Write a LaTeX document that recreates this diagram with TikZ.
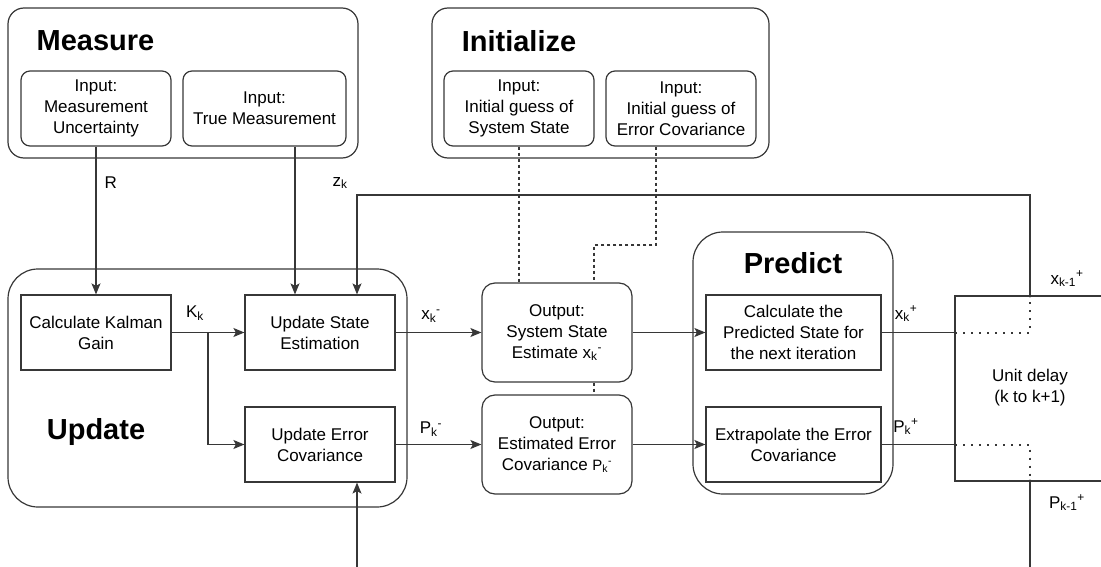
\documentclass[tikz,border=0pt]{standalone}
\usepackage{fontspec}
\setmainfont{Liberation Sans}
\usetikzlibrary{arrows.meta}

\begin{document}
\begin{tikzpicture}[x=1pt,y=1pt,yscale=-1,
    line width=1.2pt, draw={rgb,255:red,55;green,55;blue,55},
    group/.style={draw, rounded corners=16pt, inner sep=0pt},
    inbox/.style={draw, rounded corners=9pt, align=center, inner sep=0pt,
      minimum width=150pt, minimum height=75pt, font=\fontsize{17}{21}\selectfont},
    block/.style={draw, align=center, inner sep=0pt,
      minimum width=150pt, minimum height=75pt, font=\fontsize{17}{21}\selectfont},
    title/.style={inner sep=0pt, font=\fontsize{29}{32}\selectfont\bfseries},
    lbl/.style={inner sep=0pt, font=\fontsize{17}{20}\selectfont},
    arr/.style={-{Stealth[length=11pt,width=9pt,inset=2.5pt]}},
    dsh/.style={dash pattern=on 3pt off 3pt},
    dts/.style={line width=2pt, dash pattern=on 2pt off 6pt}]
\useasboundingbox (0,0) rectangle (1101,567);

% Group boxes
\node[group, minimum width=350pt, minimum height=150pt] (measure) at (183,83) {};
\node[group, minimum width=337pt, minimum height=150pt] (initialize) at (600.5,83) {};
\node[group, rounded corners=30pt, minimum width=399pt, minimum height=238pt] (update) at (207.5,388) {};
\node[group, rounded corners=30pt, minimum width=200pt, minimum height=262pt] (predict) at (793,363) {};

% Titles
\node[title, anchor=west] (tMeasure) at (36,41) {Measure};
\node[title] (tInit) at (519,41) {Initialize};
\node[title] (tUpdate) at (96,432) {Update};
\node[title] (tPredict) at (793,263) {Predict};

% Inputs
\node[inbox] (measU) at (96,108.5) {Input:\\Measurement\\Uncertainty};
\node[inbox, minimum width=163pt] (measT) at (264.5,108.5) {Input:\\True Measurement};
\node[inbox] (initS) at (519,108.5) {Input:\\Initial guess of\\System State};
\node[inbox] (initE) at (681,108.5) {Input:\\Initial guess of\\Error Covariance};

% Update blocks
\node[block] (kalman) at (96,332.5) {Calculate Kalman\\Gain};
\node[block] (upState) at (320,332.5) {Update State\\Estimation};
\node[block] (upErr) at (320,444.5) {Update Error\\Covariance};

% Outputs
\node[inbox, rounded corners=13pt, minimum height=99pt] (outState) at (557,332.5)
  {Output:\\System State\\Estimate x\textsubscript{k}\textsuperscript{-}};
\node[inbox, rounded corners=13pt, minimum height=99pt] (outErr) at (557,444.5)
  {Output:\\Estimated Error\\Covariance {\fontsize{15}{15}\selectfont P\textsubscript{k}\textsuperscript{-}}};

% Predict blocks
\node[block, minimum width=175pt] (predState) at (793.5,332.5) {Calculate the\\Predicted State for\\the next iteration};
\node[block, minimum width=175pt] (extrap) at (793.5,444.5) {Extrapolate the Error\\Covariance};

% Unit delay
\coordinate (dTL) at (955,296);
\coordinate (dBL) at (955,481);
\coordinate (dTR) at (1101,296);
\coordinate (dBR) at (1101,481);
\coordinate (dxTop) at (1030,296);
\coordinate (dPb) at (1030,481);
\coordinate (dPend) at (1030,567);
\draw (dTR) -- (dTL) -- (dBL) -- (dBR);
\node[lbl, align=center, font=\fontsize{17}{21}\selectfont] (delay) at (1030,388) {Unit delay\\(k to k+1)};

% Helper points
\coordinate (zin) at (295,195);
\coordinate (fb) at (357,195);
\coordinate (kbr) at (208,332.5);
\coordinate (pin) at (357,567);
\coordinate (edash) at (656,245);
\coordinate (dbend) at (594,245);

% Connectors
\draw[arr] (measU.south) -- (kalman.north);
\draw[arr] (zin |- measT.south) -- (zin |- upState.north);
\draw[arr] (dxTop) |- (fb) -- (fb |- upState.north);
\draw[arr] (kalman.east) -- (upState.west);
\draw[arr] (kbr) |- (upErr.west);
\draw[arr] (upState.east) -- (outState.west);
\draw[arr] (upErr.east) -- (outErr.west);
\draw[arr] (outState.east) -- (predState.west);
\draw[arr] (outErr.east) -- (extrap.west);
\draw (predState.east) -- (predState.east -| dTL);
\draw (extrap.east) -- (extrap.east -| dTL);
\draw (dPb) -- (dPend);
\draw[arr] (pin) -- (pin |- upErr.south);

% Dotted inside delay
\draw[dts] (predState.east -| dTL) -| (dxTop);
\draw[dts] (extrap.east -| dTL) -| (dPb);
\foreach \p in {dxTop,dPb} \fill[black!80] (\p) circle (1.6pt);
\fill[black!80] (predState.east -| dTL) circle (1.6pt);
\fill[black!80] (extrap.east -| dTL) circle (1.6pt);

% Dashed init lines
\draw[dsh] (initS.south) -- (initS.south |- outState.north);
\draw[dsh] (edash |- initE.south) -- (edash) -- (dbend) -- (dbend |- outState.north);
\draw[dsh] (outState.south -| dbend) -- (outErr.north -| dbend);

% Text Nodes
\node[lbl, anchor=west] (lR) at (104,183) {R};
\node[lbl] (lzk) at (340,183) {z\textsubscript{k}};
\node[lbl] (lKk) at (195,313) {K\textsubscript{k}};
\node[lbl] (lxm) at (431,316) {x\textsubscript{k}\textsuperscript{-}};
\node[lbl] (lPm) at (431,429) {P\textsubscript{k}\textsuperscript{-}};
\node[lbl] (lxp) at (906,314) {x\textsubscript{k}\textsuperscript{+}};
\node[lbl] (lPp) at (906,427) {P\textsubscript{k}\textsuperscript{+}};
\node[lbl] (lxk1) at (1067,279) {x\textsubscript{k-1}\textsuperscript{+}};
\node[lbl] (lPk1) at (1067,503) {P\textsubscript{k-1}\textsuperscript{+}};
\end{tikzpicture}
\end{document}
